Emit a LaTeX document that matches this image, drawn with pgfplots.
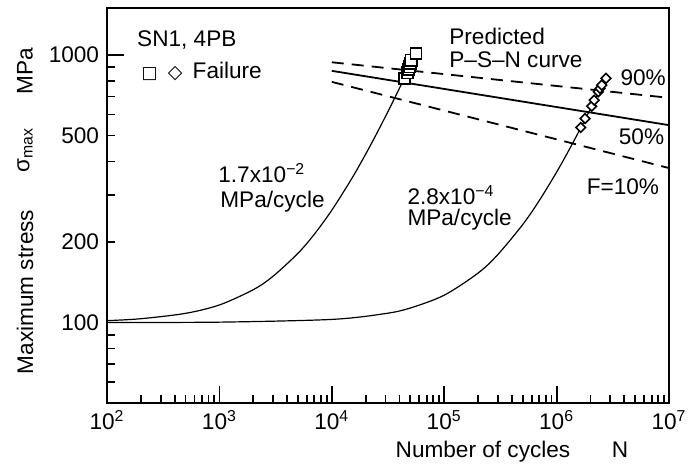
\documentclass[border=0pt]{standalone}
\usepackage{fontspec}
\setmainfont{Liberation Sans}
\newfontfamily\dejavu{DejaVu Sans}
\usepackage{pgfplots}
\pgfplotsset{compat=1.18}
\begin{document}
\fontsize{11.3}{13.5}\selectfont
\begin{tikzpicture}
\begin{axis}[
  scale only axis, width=281pt, height=197.5pt,
  at={(0,0)}, anchor=south west,
  xmode=log, ymode=log,
  xmin=100, xmax=1e7, ymin=50, ymax=1500,
  axis line style={line width=1pt},
  tick pos=left, tick align=inside,
  major tick length=8.5pt, minor tick length=4pt,
  every tick/.style={black, line width=0.9pt},
  xtick={100,1000,10000,100000,1000000,10000000},
  xticklabels={10\textsuperscript{2},10\textsuperscript{3},10\textsuperscript{4},10\textsuperscript{5},10\textsuperscript{6},10\textsuperscript{7}},
  minor xtick={200,300,400,500,600,700,800,900,2000,3000,4000,5000,6000,7000,8000,9000,20000,30000,40000,50000,60000,70000,80000,90000,200000,300000,400000,500000,600000,700000,800000,900000,2000000,3000000,4000000,5000000,6000000,7000000,8000000,9000000},
  ytick={100,1000}, yticklabels={100,1000},
  extra y ticks={200,500}, extra y tick labels={200,500},
  extra tick style={major tick length=4pt},
  minor ytick={60,70,80,90,300,400,600,700,800,900},
  ticklabel style={font=\fontsize{11.3}{13}\selectfont},
  clip=false,
]
% ramp 1.7e-2 MPa/cycle
\addplot[black, line width=0.6pt, smooth] coordinates {
 (100,101.6) (200,103.3) (500,108.2) (1000,116.3) (2000,132.6) (3000,148.9)
 (5000,181.5) (7000,214) (10000,263) (15000,344.5) (20000,426) (25000,507.5)
 (30000,589) (35000,670.5) (40000,752) (44200,820)};
% ramp 2.8e-4 MPa/cycle
\addplot[black, line width=0.6pt, smooth] coordinates {
 (100,100.03) (1000,100.3) (10000,102.7) (30000,108) (50000,113.3) (100000,126.5)
 (200000,153) (300000,179.5) (500000,232.5) (700000,285.5) (1000000,365)
 (1300000,444.5) (1600000,524) (2000000,630) (2400000,736) (2750000,829)};
% P-S-N curves
\addplot[black, line width=0.9pt, dash pattern=on 6pt off 4pt] coordinates {(10000,940) (10000000,692)};
\addplot[black, line width=0.9pt] coordinates {(10000,873) (10000000,547)};
\addplot[black, line width=0.9pt, dash pattern=on 6pt off 4pt] coordinates {(10000,794) (10000000,378)};
% failures
\addplot[only marks, mark=square*, mark size=2.8pt, mark options={fill=white, draw=black, line width=0.8pt}] coordinates {
 (44200,818) (47200,859) (48200,884) (49200,904) (49900,931) (50900,957) (56100,1014)};
\addplot[only marks, mark=square*, mark size=1.7pt, mark options={fill=white, draw=black, line width=0.8pt, rotate=45}] coordinates {
 (1640000,536) (1790000,579) (2050000,644) (2160000,678) (2350000,729) (2430000,750) (2520000,772) (2750000,818)};
% texts
\begin{scope}[every node/.style={inner sep=0pt}]
\node[anchor=west] at (rel axis cs:0.053,0.919) {SN1, 4PB};
\node[anchor=west] at (rel axis cs:0.061,0.838) {{\dejavu\fontsize{8.5}{9}\selectfont □}\hspace{0.45em}{\dejavu\fontsize{9.5}{9}\selectfont ◇}\hspace{0.45em}Failure};
\node[anchor=west] at (rel axis cs:0.6085,0.927) {Predicted};
\node[anchor=west] at (rel axis cs:0.6085,0.868) {P–S–N curve};
\node[anchor=east] at (rel axis cs:0.995,0.823) {90\%};
\node[anchor=east] at (rel axis cs:0.992,0.673) {50\%};
\node[anchor=east] at (rel axis cs:0.983,0.547) {F=10\%};
\node[anchor=west] at (rel axis cs:0.1975,0.582) {1.7x10\textsuperscript{−2}};
\node[anchor=west] at (rel axis cs:0.201,0.509) {MPa/cycle};
\node[anchor=west] at (rel axis cs:0.534,0.527) {2.8x10\textsuperscript{−4}};
\node[anchor=west] at (rel axis cs:0.534,0.463) {MPa/cycle};
% axis labels
\node[anchor=base] at (rel axis cs:0.669,0) [yshift=-27pt] {Number of cycles};
\node[anchor=base] at (rel axis cs:0.913,0) [yshift=-27pt] {N};
\node at (rel axis cs:0,0.281) [xshift=-41pt, rotate=90] {Maximum stress};
\node at (rel axis cs:0,0.641) [xshift=-41pt, rotate=90] {σ\textsubscript{max}};
\node at (rel axis cs:0,0.841) [xshift=-41pt, rotate=90] {MPa};
\end{scope}
\end{axis}
\pgfresetboundingbox
\path[use as bounding box] (-53.5pt,-31.5pt) rectangle (290.5pt,201.5pt);
\end{tikzpicture}
\end{document}
